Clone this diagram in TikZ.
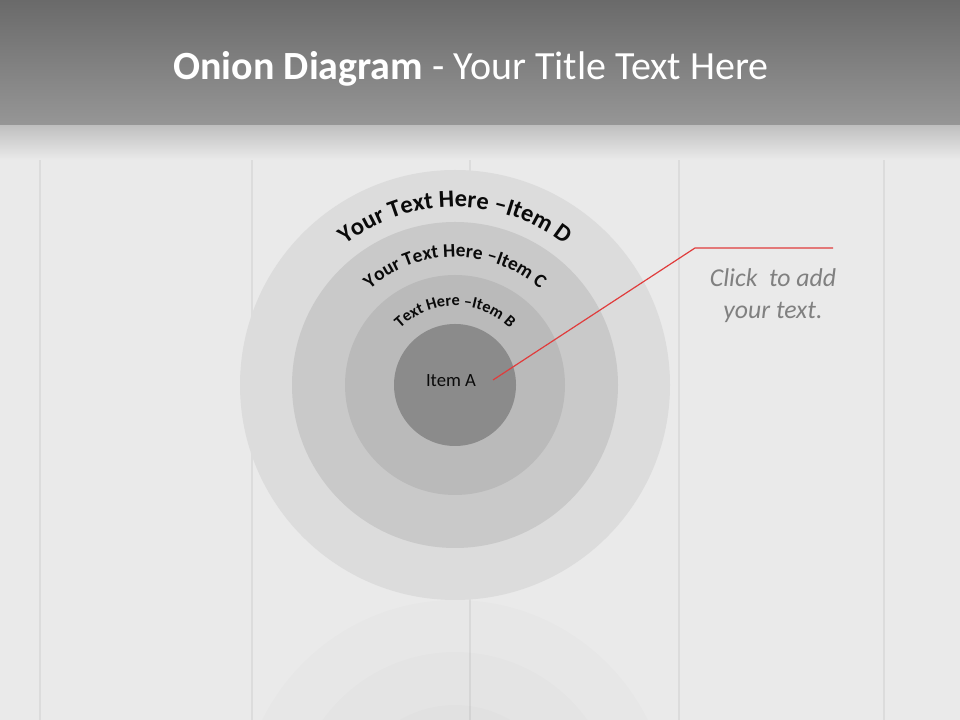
\documentclass[tikz,border=0pt]{standalone}
\usepackage{fontspec}
\setmainfont{Carlito}
\usetikzlibrary{decorations.text}
\definecolor{bg}{HTML}{EAEAEA}
\definecolor{plankgap}{HTML}{DCDCDC}
\definecolor{titletop}{HTML}{6A6A6A}
\definecolor{titlebot}{HTML}{969696}
\definecolor{cD}{HTML}{DCDCDC}
\definecolor{cC}{HTML}{C9C9C9}
\definecolor{cB}{HTML}{BABABA}
\definecolor{cA}{HTML}{8B8B8B}
\definecolor{txt}{HTML}{0A0A0A}
\definecolor{clicktxt}{HTML}{808080}
\definecolor{redline}{HTML}{E03C3C}
\tikzset{
  ring/.style={circle, draw=none, inner sep=0pt},
  arctext/.style={decorate, decoration={text along path, text align=center, text color=txt}},
  connector/.style={draw=redline, line width=0.9pt},
}
\begin{document}
\begin{tikzpicture}[x=0.75pt,y=0.75pt]
\useasboundingbox (0,0) rectangle (960,720);
% background wood
\fill[bg] (0,0) rectangle (960,720);
\foreach \x in {40,252,470,679,884}
  \fill[plankgap] (\x-1,0) rectangle (\x+1,595);
% faint reflection
\begin{scope}
  \clip (0,0) rectangle (960,120);
  \fill[black,opacity=0.012] (455,-95) circle (215);
  \fill[black,opacity=0.012] (455,-95) circle (163);
  \fill[black,opacity=0.012] (455,-95) circle (110);
\end{scope}
% title bar
\shade[top color=black!25, bottom color=bg] (0,595) rectangle (960,560);
\shade[top color=titletop, bottom color=titlebot] (0,595) rectangle (960,720);
\node[text=white, anchor=base, font=\fontsize{30}{36}\selectfont] (title) at (471,640)
  {\textbf{Onion Diagram} - Your Title Text Here};
% onion rings
\node[ring, fill=cD, minimum size=322.5pt] (D) at (455,335) {};
\node[ring, fill=cC, minimum size=244.5pt] (C) at (455,335) {};
\node[ring, fill=cB, minimum size=165pt] (B) at (455,335) {};
\node[ring, fill=cA, minimum size=91.5pt] (A) at (455,335) {};
% curved labels
\path[arctext, decoration={text={|\bfseries\fontsize{18.3}{20}\selectfont|Your Text Here –Item D}}]
  (455,335) ++(150:178) arc[start angle=150, end angle=30, radius=178];
\path[arctext, decoration={text={|\bfseries\fontsize{14.5}{16}\selectfont|Your Text Here –Item C}}]
  (455,335) ++(150:128) arc[start angle=150, end angle=30, radius=128];
\path[arctext, decoration={text={|\bfseries\fontsize{12.2}{14}\selectfont|Text Here –Item B}}]
  (455,335) ++(150:79) arc[start angle=150, end angle=30, radius=79];
\node[text=txt, anchor=base, font=\fontsize{14}{16}\selectfont] (la) at (451,333) {Item A};
% callout
\coordinate (p) at (493,340);
\coordinate (e) at (695,472);
\coordinate (f) at (833,472);
\draw[connector] (p) -- (e) -- (f);
\node[text=clicktxt, align=center, font=\itshape\fontsize{19.3}{24}\selectfont] (click) at (773,424)
  {Click~ to add\\your text.};
\end{tikzpicture}
\end{document}
